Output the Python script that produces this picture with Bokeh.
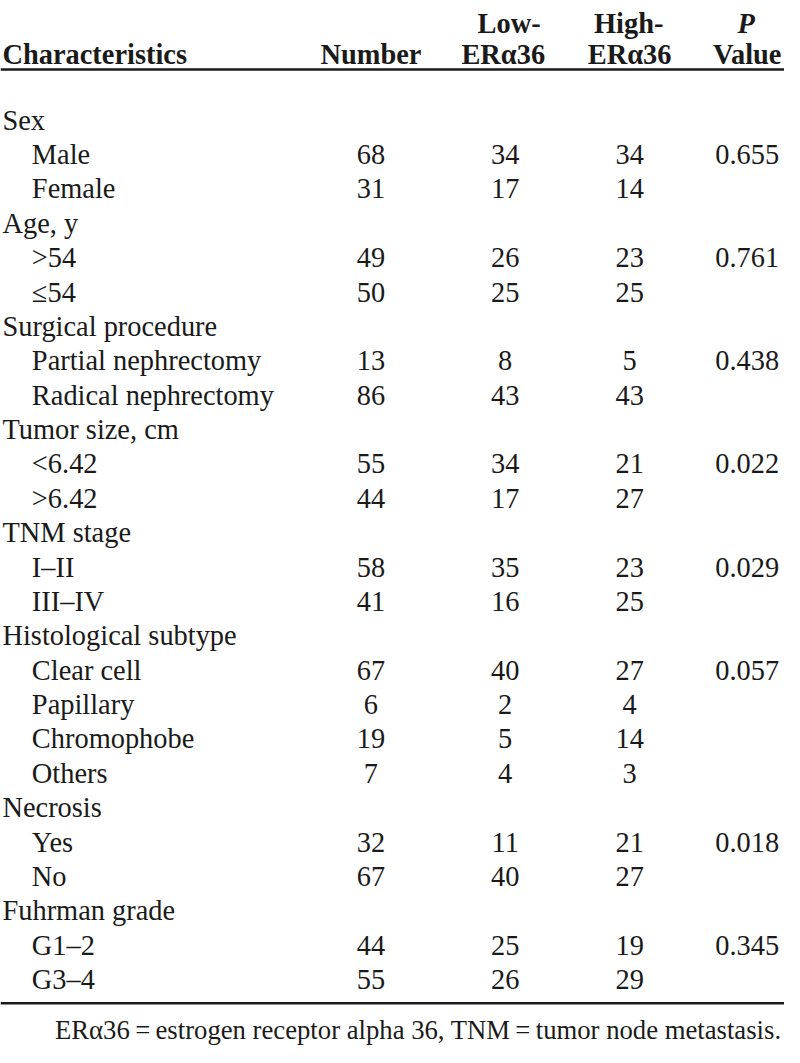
from bokeh.plotting import figure
from bokeh.models import ColumnDataSource, Span, Range1d
from bokeh.core.properties import value
from bokeh.embed import file_html
from bokeh.resources import INLINE

# ---- data ----
labels = ["Sex", "Male", "Female",
          "Age, y", ">54", "\u226454",
          "Surgical procedure", "Partial nephrectomy", "Radical nephrectomy",
          "Tumor size, cm", "<6.42", ">6.42",
          "TNM stage", "I\u2013II", "III\u2013IV",
          "Histological subtype", "Clear cell", "Papillary", "Chromophobe", "Others",
          "Necrosis", "Yes", "No",
          "Fuhrman grade", "G1\u20132", "G3\u20134"]
is_group = [1, 0, 0, 1, 0, 0, 1, 0, 0, 1, 0, 0, 1, 0, 0, 1, 0, 0, 0, 0, 1, 0, 0, 1, 0, 0]
number = ["", "68", "31", "", "49", "50", "", "13", "86", "", "55", "44", "", "58", "41",
          "", "67", "6", "19", "7", "", "32", "67", "", "44", "55"]
low_era36 = ["", "34", "17", "", "26", "25", "", "8", "43", "", "34", "17", "", "35", "16",
             "", "40", "2", "5", "4", "", "11", "40", "", "25", "26"]
high_era36 = ["", "34", "14", "", "23", "25", "", "5", "43", "", "21", "27", "", "23", "25",
              "", "27", "4", "14", "3", "", "21", "27", "", "19", "29"]
p_value = ["", "0.655", "", "", "0.761", "", "", "0.438", "", "", "0.022", "", "", "0.029", "",
           "", "0.057", "", "", "", "", "0.018", "", "", "0.345", ""]
footnote = "ER\u03b136\u2009=\u2009estrogen receptor alpha 36, TNM\u2009=\u2009tumor node metastasis."

# ---- layout (reference pixel coordinates) ----
W, H = 784, 1047
SX = W / 800.0
FONT = "Liberation Serif"
FS = "%.1fpx" % (29 * SX)
FS_NOTE = "%.1fpx" % (27.2 * SX)
INK = "#1a1a1a"

row0 = 121.5
pitch = 34.9
ys = [row0 + i * pitch for i in range(len(labels))]
xs_label = [2 if g else 32 for g in is_group]

p = figure(width=W, height=H, x_range=Range1d(0, 800), y_range=Range1d(1063, 0),
           output_backend="svg", toolbar_location=None, min_border=0)
p.axis.visible = False
p.grid.visible = False
p.outline_line_color = None
p.background_fill_color = "white"
p.border_fill_color = "white"

common = dict(text_font=value(FONT), text_font_size=FS, text_color=INK,
              text_baseline="alphabetic")

src = ColumnDataSource(dict(x=xs_label, y=ys, t=labels))
p.text(x="x", y="y", text="t", source=src, text_align="left", **common)

for colx, vals in [(378, number), (515, low_era36), (642, high_era36), (762, p_value)]:
    s = ColumnDataSource(dict(x=[colx] * len(vals), y=ys, t=vals))
    p.text(x="x", y="y", text="t", source=s, text_align="center", **common)

# header
hdr = dict(text_font=value(FONT), text_font_size=FS, text_color=INK,
           text_baseline="alphabetic", text_font_style="bold")
h1 = 23
h2 = 55
p.text(x=[2], y=[h2], text=["Characteristics"], text_align="left", **hdr)
p.text(x=[378], y=[h2], text=["Number"], text_align="center", **hdr)
p.text(x=[519, 641], y=[h1, h1], text=["Low-", "High-"], text_align="center", **hdr)
p.text(x=[513, 642], y=[h2, h2], text=["ER\u03b136", "ER\u03b136"], text_align="center", **hdr)
p.text(x=[761], y=[h1], text=["P"], text_align="center",
       text_font=value(FONT), text_font_size=FS, text_color=INK,
       text_baseline="alphabetic", text_font_style="bold italic")
p.text(x=[762], y=[h2], text=["Value"], text_align="center", **hdr)

# rules
p.add_layout(Span(location=70, dimension="width", line_color=INK, line_width=2.5))
p.add_layout(Span(location=1018, dimension="width", line_color=INK, line_width=2.5))

# footnote
p.text(x=[797], y=[1045], text=[footnote], text_align="right",
       text_font=value(FONT), text_font_size=FS_NOTE, text_color=INK,
       text_baseline="alphabetic")

open("out.html", "w").write(file_html(p, INLINE))
